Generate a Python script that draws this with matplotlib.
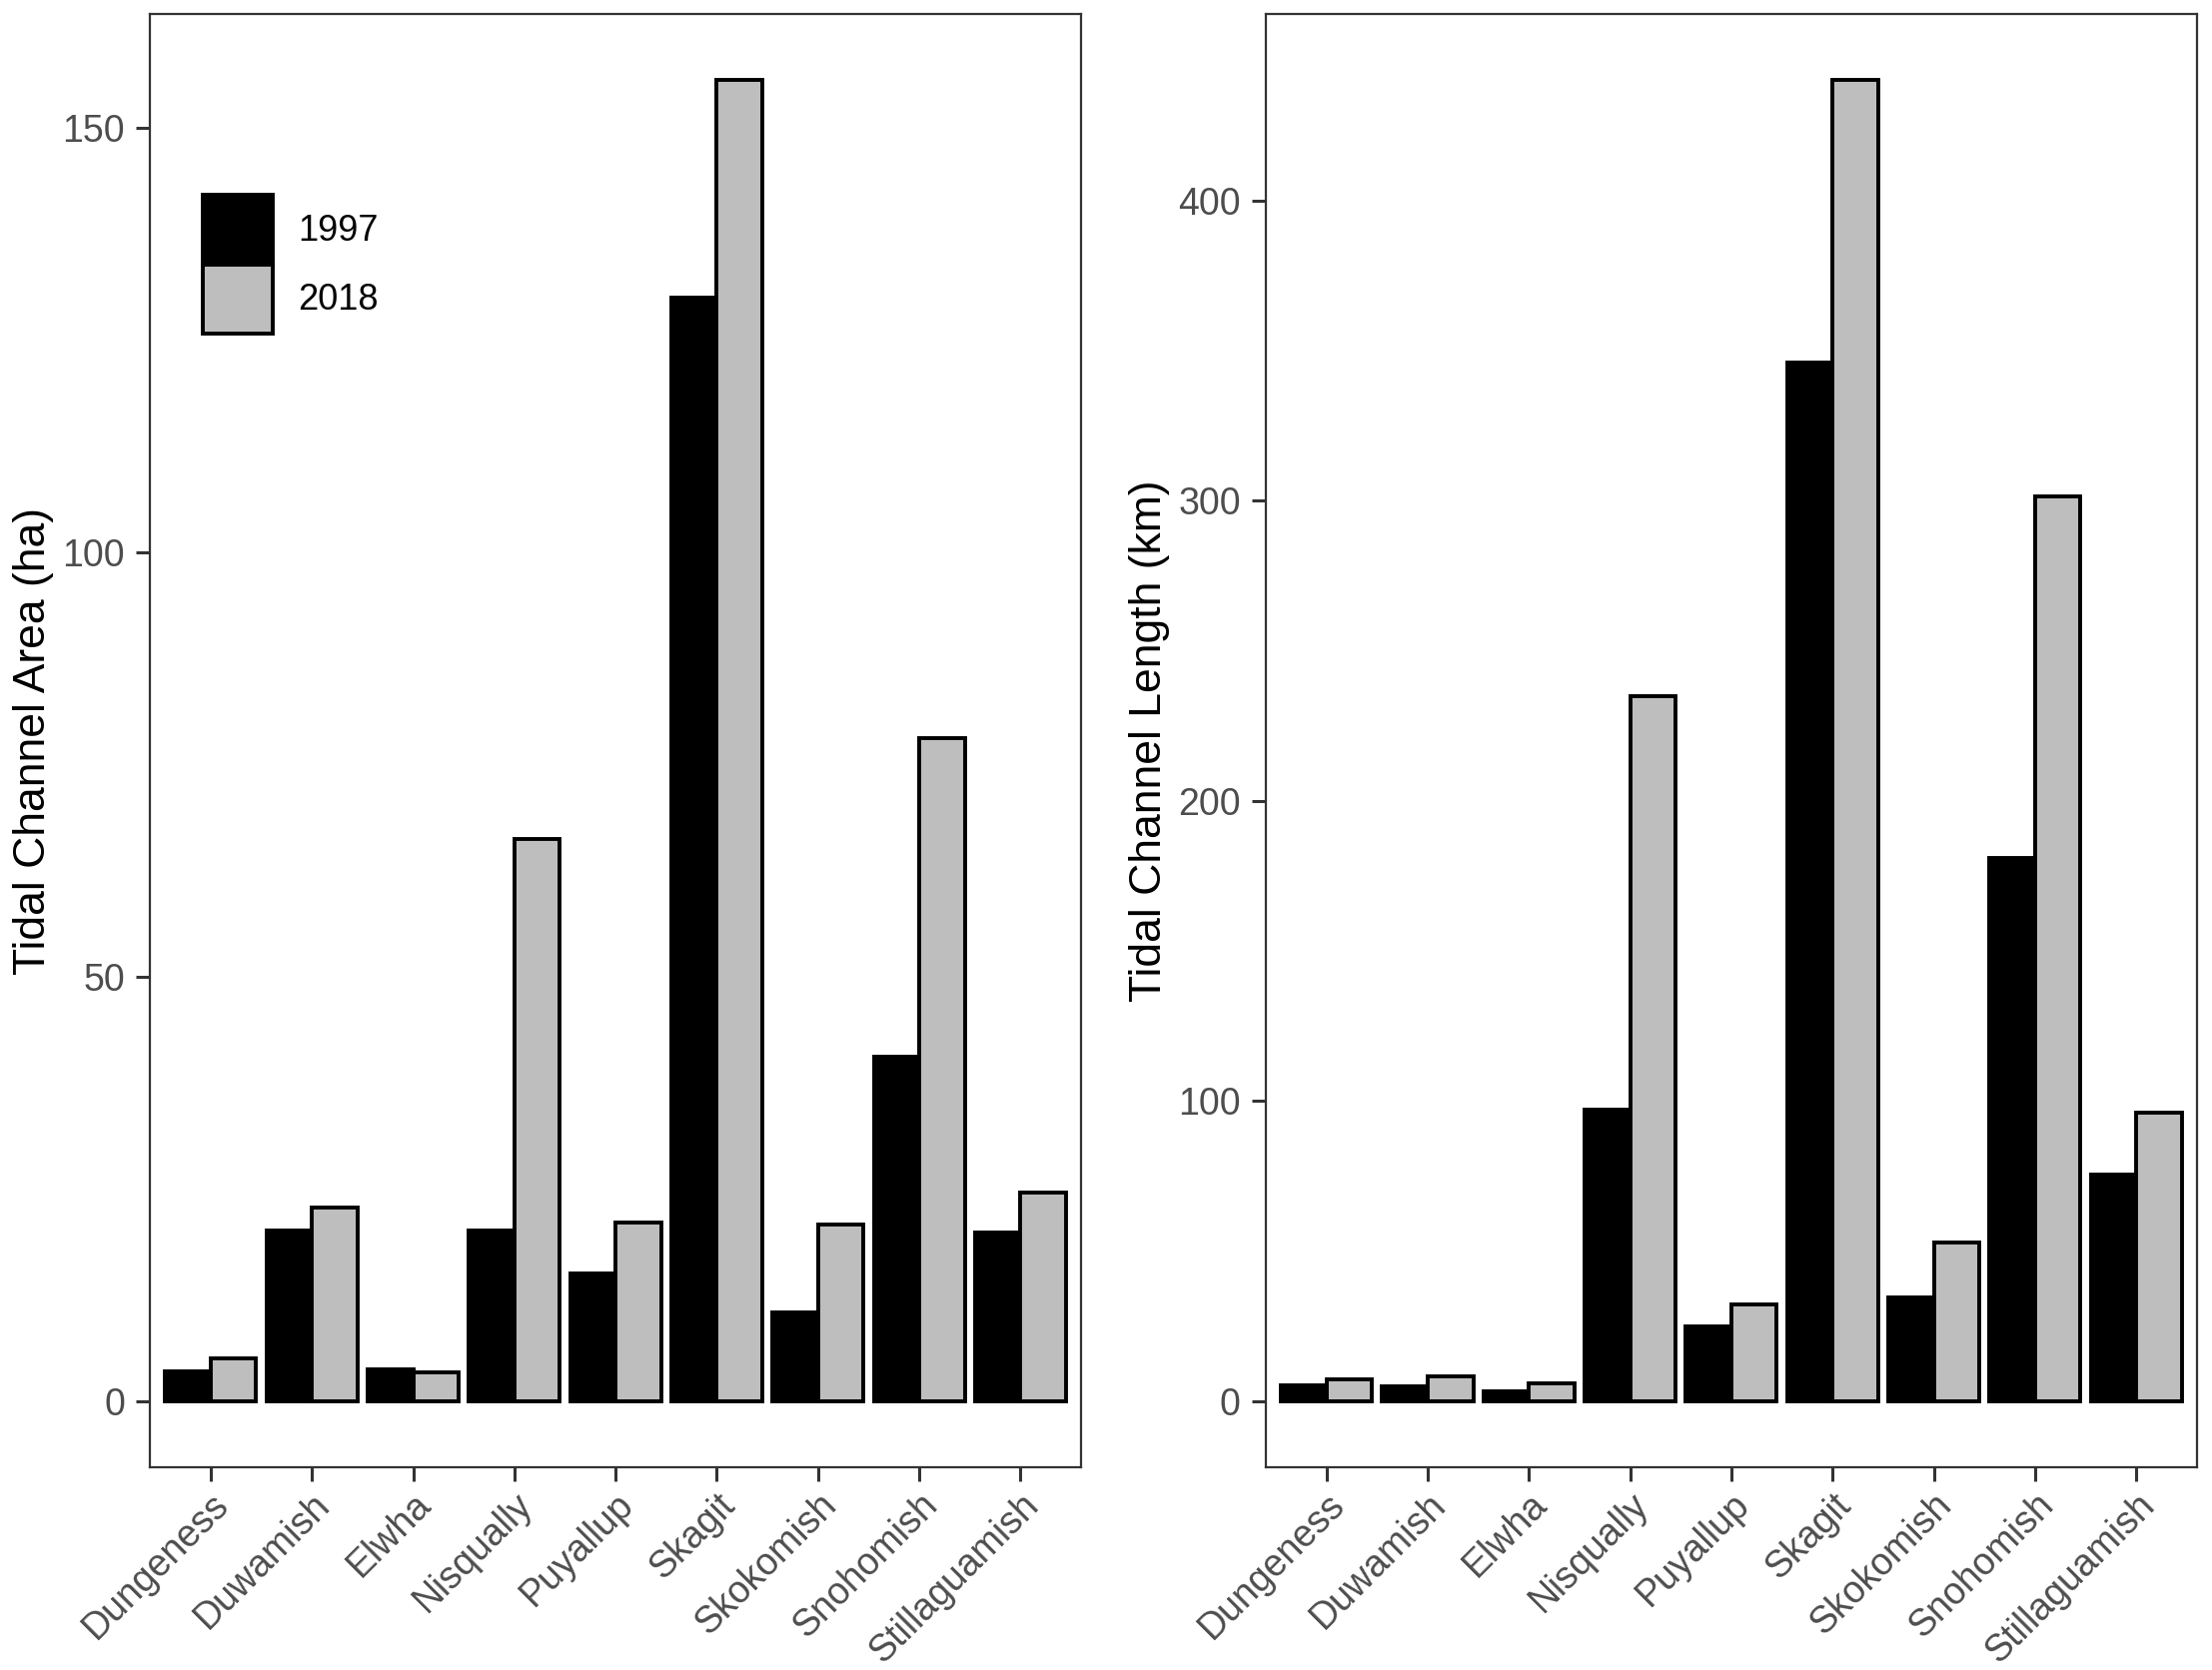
import matplotlib
matplotlib.use("Agg")
import matplotlib.pyplot as plt
import numpy as np

plt.rcParams['font.family'] = ['Liberation Sans', 'DejaVu Sans']

sites = ["Dungeness", "Duwamish", "Elwha", "Nisqually", "Puyallup",
         "Skagit", "Skokomish", "Snohomish", "Stillaguamish"]

# tidal channel area (ha)
area_1997 = [3.5, 20.1, 3.8, 20.1, 15.0, 130.0, 10.5, 40.6, 19.9]
area_2018 = [5.0, 22.8, 3.4, 66.2, 21.0, 155.6, 20.8, 78.1, 24.6]

# tidal channel length (km)
length_1997 = [5.3, 4.9, 3.3, 97.0, 24.8, 346.0, 34.6, 181.0, 75.5]
length_2018 = [7.4, 8.3, 5.8, 235.0, 32.4, 440.0, 53.0, 301.5, 96.0]

years = ["1997", "2018"]
colors = ["black", "#BEBEBE"]

fig = plt.figure(figsize=(11.07, 8.36), dpi=200)
ax1 = fig.add_axes([0.0678, 0.1214, 0.421, 0.870])
ax2 = fig.add_axes([0.5722, 0.1214, 0.421, 0.870])

x = np.arange(1, len(sites) + 1)
w = 0.45


def draw(ax, v1, v2, ylabel, yticks):
    ax.bar(x - w / 2, v1, width=w, color=colors[0], edgecolor="black",
           linewidth=1.4, label=years[0])
    ax.bar(x + w / 2, v2, width=w, color=colors[1], edgecolor="black",
           linewidth=1.4, label=years[1])
    top = max(max(v1), max(v2))
    ax.set_ylim(-0.05 * top, 1.05 * top)
    ax.set_xlim(0.4, len(sites) + 0.6)
    ax.set_xticks(x)
    ax.set_xticklabels(sites, rotation=45, ha="right", rotation_mode="anchor")
    ax.set_yticks(yticks)
    ax.set_ylabel(ylabel, fontsize=16, color="black", labelpad=3)
    ax.tick_params(axis="both", labelsize=13.5, labelcolor="#4D4D4D",
                   color="#333333", length=5, width=1.1, pad=4)
    ax.tick_params(axis="x", pad=2)
    for s in ax.spines.values():
        s.set_color("#333333")
        s.set_linewidth(0.8)


draw(ax1, area_1997, area_2018, "Tidal Channel Area (ha)", [0, 50, 100, 150])
draw(ax2, length_1997, length_2018, "Tidal Channel Length (km)", [0, 100, 200, 300, 400])

ax1.legend(loc="upper left", bbox_to_anchor=(0.041, 0.886), frameon=False,
           fontsize=13, handlelength=1.95, handleheight=2.6, labelspacing=0.0,
           handletextpad=0.7, borderaxespad=0)

fig.savefig("out.png", dpi=200)
